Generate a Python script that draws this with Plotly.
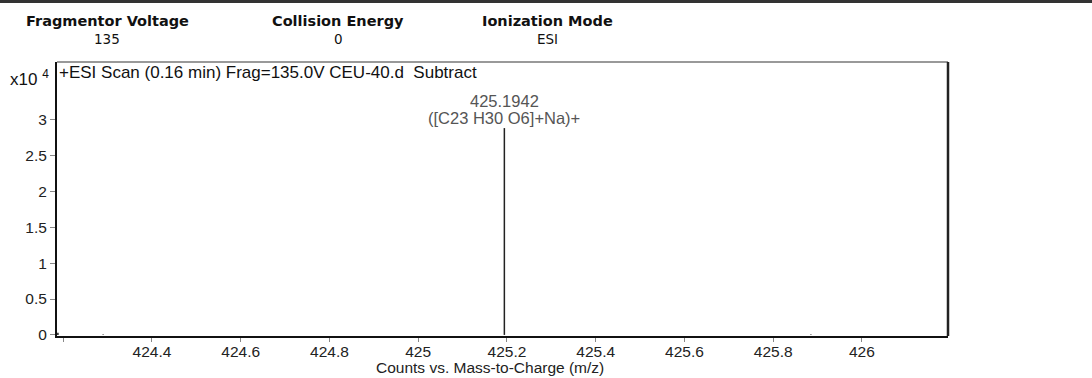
import plotly.graph_objects as go

# Spectrum peaks (m/z, counts x10^4)
mz_values = [424.188, 424.29, 425.1942, 425.885]
counts_e4 = [0.03, 0.006, 2.88, 0.005]

peak_label = "425.1942"
peak_formula = "([C23 H30 O6]+Na)+"

x_tick_vals = [424.2, 424.4, 424.6, 424.8, 425.0, 425.2, 425.4, 425.6, 425.8, 426.0]
x_tick_text = ["", "424.4", "424.6", "424.8", "425", "425.2", "425.4", "425.6", "425.8", "426"]
y_tick_vals = [0, 0.5, 1, 1.5, 2, 2.5, 3]
y_tick_text = ["0", "0.5", "1", "1.5", "2", "2.5", "3"]

header_names = ["Fragmentor Voltage", "Collision Energy", "Ionization Mode"]
header_values = ["135", "0", "ESI"]

# stems: vertical line from 0 to each intensity
xs, ys = [], []
for m, c in zip(mz_values, counts_e4):
    xs += [m, m, None]
    ys += [0, c, None]

fig = go.Figure()
fig.add_trace(go.Scatter(x=xs, y=ys, mode="lines",
                         line=dict(color="#222222", width=1.5),
                         hoverinfo="skip", showlegend=False))

sans = "Liberation Sans, Arial, sans-serif"
axis_font = dict(family=sans, size=15.5, color="#222222")

fig.update_layout(
    width=1092, height=378,
    margin=dict(l=57, r=144, t=62, b=42),
    paper_bgcolor="white", plot_bgcolor="white",
    showlegend=False,
    xaxis=dict(range=[424.186, 426.194], tickvals=x_tick_vals, ticktext=x_tick_text,
               ticks="outside", ticklen=4, tickcolor="#888888", tickwidth=1,
               ticklabelstandoff=-4,
               showgrid=False, zeroline=False, showline=True, linecolor="#111111",
               linewidth=2, tickfont=axis_font, automargin=False),
    yaxis=dict(range=[-0.015, 3.8], tickvals=y_tick_vals, ticktext=y_tick_text,
               ticks="outside", ticklen=5, tickcolor="#888888", tickwidth=1,
               showgrid=False, zeroline=False, showline=True, linecolor="#111111",
               linewidth=2, tickfont=axis_font, automargin=False),
)

# top and right frame edges
fig.add_shape(type="line", xref="paper", yref="paper", x0=0, x1=1, y0=1, y1=1,
              line=dict(color="#777777", width=1.5))
fig.add_shape(type="line", xref="paper", yref="paper", x0=1, x1=1, y0=0, y1=1,
              line=dict(color="#222222", width=2.5))

# page separator line at the top
fig.add_shape(type="line", xref="paper", yref="paper", x0=-0.1, x1=1.2,
              y0=1.222, y1=1.222, line=dict(color="#333333", width=3.5))

# x axis title
fig.add_annotation(xref="paper", yref="paper", x=(490 - 57) / 891, y=-0.078,
                   xanchor="center", yanchor="top", text="Counts vs. Mass-to-Charge (m/z)",
                   showarrow=False, font=axis_font)

# scan title
fig.add_annotation(xref="paper", yref="paper", x=0.0, y=1.005, xanchor="left", yanchor="top",
                   text="+ESI Scan (0.16 min) Frag=135.0V CEU-40.d  Subtract",
                   showarrow=False, font=dict(family=sans, size=17, color="#111111"))
# exponent
fig.add_annotation(xref="paper", yref="paper", x=-0.007, y=0.99, xanchor="right", yanchor="top",
                   text="x10 <sup>4</sup>", showarrow=False,
                   font=dict(family=sans, size=17, color="#111111"))

# peak labels: m/z value above the ion formula
peak_font = dict(family=sans, size=16.5, color="#555555")
fig.add_annotation(x=mz_values[2], y=counts_e4[2], yshift=-1, xanchor="center", yanchor="bottom",
                   text=peak_formula, showarrow=False, font=peak_font)
fig.add_annotation(x=mz_values[2], y=counts_e4[2], yshift=16, xanchor="center", yanchor="bottom",
                   text=peak_label, showarrow=False, font=peak_font)

# acquisition parameters header
header_x = [107, 338, 547]
for hx, name, val in zip(header_x, header_names, header_values):
    fig.add_annotation(xref="paper", yref="paper", x=(hx - 57) / 891, y=1.151,
                       xanchor="center", yanchor="middle", text="<b>" + name + "</b>",
                       showarrow=False,
                       font=dict(family="DejaVu Sans, Verdana, sans-serif", size=14.5, color="#111111"))
    fig.add_annotation(xref="paper", yref="paper", x=(hx - 57) / 891, y=1.083,
                       xanchor="center", yanchor="middle", text=val, showarrow=False,
                       font=dict(family="DejaVu Sans, Verdana, sans-serif", size=13.5, color="#111111"))

fig.write_html("out.html")
